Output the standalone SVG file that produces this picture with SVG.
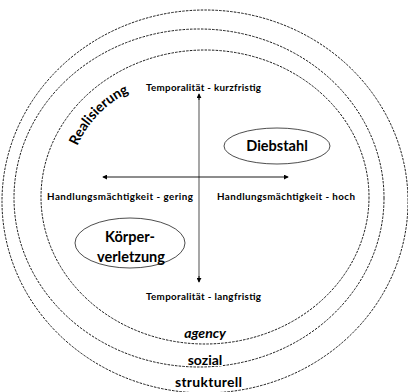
<svg xmlns="http://www.w3.org/2000/svg" width="408" height="392" viewBox="0 0 408 392">
<style>
.ring{fill:none;stroke:#000;stroke-width:0.9;stroke-dasharray:2.5,1.2}
.node{fill:#fff;stroke:#000;stroke-width:0.7}
.ax{stroke:#777;stroke-width:1.3}
.axh{stroke:#000;stroke-width:0.9}
.lbl{font-family:Lato,"Open Sans",sans-serif;font-weight:bold;font-size:9.8px;fill:#000;text-anchor:middle}
.big{font-family:Lato,"Open Sans",sans-serif;font-weight:bold;font-size:14.5px;fill:#000;text-anchor:middle}
.ring-t{font-family:Lato,"Open Sans",sans-serif;font-weight:bold;font-size:14px;fill:#000;text-anchor:middle;stroke:#fff;stroke-width:2;paint-order:stroke}
</style>
<defs>
<marker id="ah" viewBox="0 0 6 6" refX="5" refY="3" markerWidth="5" markerHeight="5" orient="auto" markerUnits="userSpaceOnUse">
<path d="M0,0 L6,3 L0,6 z" fill="#000"/>
</marker>
<path id="realPath" d="M73,157 A108,108 0 0,1 140,88"/>
</defs>
<g id="rings">
<ellipse id="ring-strukturell" class="ring" cx="205" cy="201.5" rx="203" ry="191.5"/>
<ellipse id="ring-sozial" class="ring" cx="199" cy="198" rx="185" ry="169"/>
<ellipse id="ring-agency" class="ring" cx="205" cy="197" rx="164" ry="147"/>
</g>
<g id="connectors">
<line class="ax" x1="199" y1="97" x2="199" y2="279" />
<line class="axh" x1="199" y1="177" x2="288" y2="177" marker-end="url(#ah)"/>
<line class="axh" x1="199" y1="177" x2="103" y2="177" marker-end="url(#ah)"/>
<line class="axh" x1="199" y1="100" x2="199" y2="94" marker-end="url(#ah)"/>
<line class="axh" x1="199" y1="276" x2="199" y2="282" marker-end="url(#ah)"/>
</g>
<g id="axis-labels">
<text class="lbl" x="203.5" y="91" textLength="115">Temporalität - kurzfristig</text>
<text class="lbl" x="120" y="200" textLength="146">Handlungsmächtigkeit - gering</text>
<text class="lbl" x="286" y="200" textLength="138">Handlungsmächtigkeit - hoch</text>
<text class="lbl" x="203.5" y="300" textLength="115">Temporalität - langfristig</text>
</g>
<g id="node-diebstahl">
<ellipse class="node" cx="277" cy="146" rx="53" ry="18"/>
<text class="big" x="277" y="151">Diebstahl</text>
</g>
<g id="node-koerperverletzung">
<ellipse class="node" cx="130" cy="243" rx="55" ry="25"/>
<text class="big" x="130" y="242">Körper-</text>
<text class="big" x="131" y="262">verletzung</text>
</g>
<g id="ring-labels">
<text class="ring-t" font-size="14.5"><textPath href="#realPath" startOffset="50%">Realisierung</textPath></text>
<text class="ring-t" x="205" y="338" font-style="italic">agency</text>
<text class="ring-t" x="205" y="365">sozial</text>
<text class="ring-t" x="208.5" y="387" textLength="67">strukturell</text>
</g>
</svg>
